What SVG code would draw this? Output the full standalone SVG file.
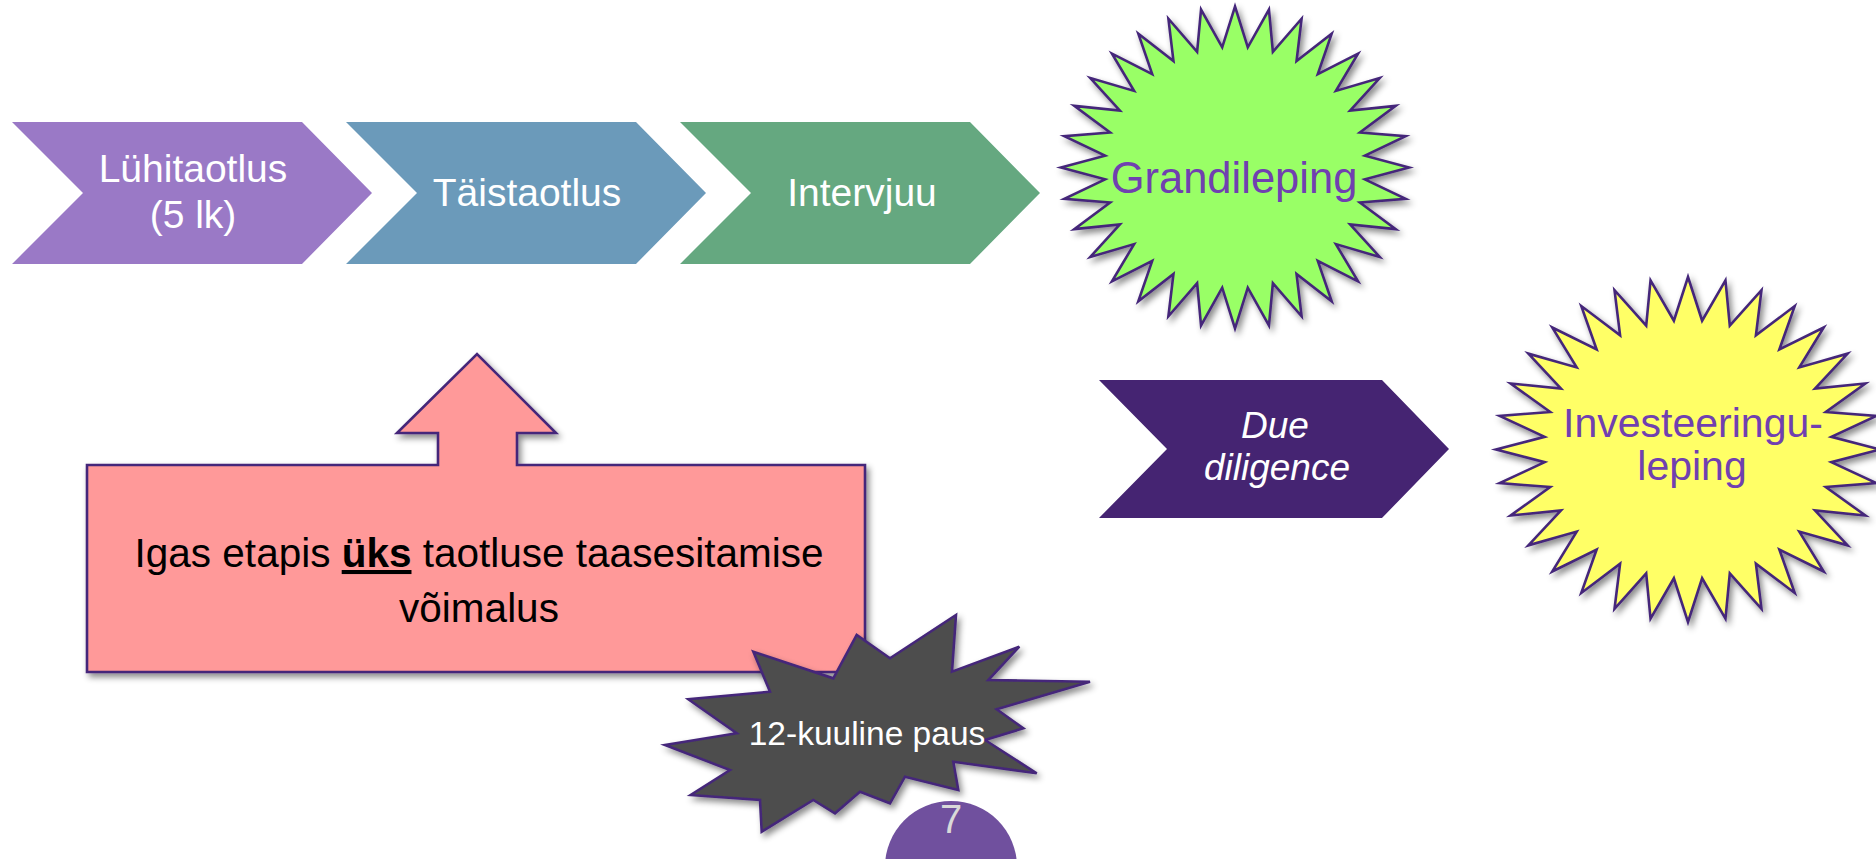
<svg xmlns="http://www.w3.org/2000/svg" xmlns:xlink="http://www.w3.org/1999/xlink" width="1876" height="859" viewBox="0 0 1876 859">
<style>
.t{font-family:"Liberation Sans",Arial,sans-serif;text-anchor:middle}
.w{fill:#ffffff}
.edge{stroke:#45287a;stroke-width:2.6;stroke-linejoin:miter}
.purpleT{fill:#7040b0}
</style>
<defs>
<filter id="sh" x="-20%" y="-20%" width="140%" height="140%">
<feDropShadow dx="3" dy="4" stdDeviation="3" flood-color="#000" flood-opacity="0.45"/>
</filter>
<polygon id="star32" vector-effect="non-scaling-stroke" points="0,-100 7.35,-74.64 19.51,-98.08 21.77,-71.77 38.27,-92.39 35.36,-66.14 55.56,-83.15 47.58,-57.98 70.71,-70.71 57.98,-47.58 83.15,-55.56 66.14,-35.36 92.39,-38.27 71.77,-21.77 98.08,-19.51 74.64,-7.35 100,0 74.64,7.35 98.08,19.51 71.77,21.77 92.39,38.27 66.14,35.36 83.15,55.56 57.98,47.58 70.71,70.71 47.58,57.98 55.56,83.15 35.36,66.14 38.27,92.39 21.77,71.77 19.51,98.08 7.35,74.64 0,100 -7.35,74.64 -19.51,98.08 -21.77,71.77 -38.27,92.39 -35.36,66.14 -55.56,83.15 -47.58,57.98 -70.71,70.71 -57.98,47.58 -83.15,55.56 -66.14,35.36 -92.39,38.27 -71.77,21.77 -98.08,19.51 -74.64,7.35 -100,0 -74.64,-7.35 -98.08,-19.51 -71.77,-21.77 -92.39,-38.27 -66.14,-35.36 -83.15,-55.56 -57.98,-47.58 -70.71,-70.71 -47.58,-57.98 -55.56,-83.15 -35.36,-66.14 -38.27,-92.39 -21.77,-71.77 -19.51,-98.08 -7.35,-74.64"/>
</defs>
<rect width="1876" height="859" fill="#ffffff"/>

<g id="connectors"></g>

<g id="step1">
<polygon points="12,122 302,122 372,193 302,264 12,264 83,193" fill="#9a79c6"/>
<text class="t w" x="193" y="182" font-size="39">Lühitaotlus</text>
<text class="t w" x="193" y="228" font-size="39">(5 lk)</text>
</g>
<g id="step2">
<polygon points="346,122 636,122 706,193 636,264 346,264 417,193" fill="#6b9aba"/>
<text class="t w" x="527" y="206" font-size="39">Täistaotlus</text>
</g>
<g id="step3">
<polygon points="680,122 970,122 1040,193 970,264 680,264 751,193" fill="#65a880"/>
<text class="t w" x="862" y="206" font-size="39">Intervjuu</text>
</g>

<g id="grandileping">
<g filter="url(#sh)">
<use xlink:href="#star32" transform="translate(1235,167.5) scale(1.74,1.61)" fill="#99ff66" class="edge"/>
</g>
<text class="t purpleT" x="1234" y="193" font-size="43.5">Grandileping</text>
</g>

<g id="due-diligence">
<polygon points="1099,380 1382,380 1449,449 1382,518 1099,518 1167,449" fill="#452472"/>
<text class="t w" x="1275" y="438" font-size="37" font-style="italic">Due</text>
<text class="t w" x="1277" y="480" font-size="37" font-style="italic">diligence</text>
</g>

<g id="investeeringuleping">
<g filter="url(#sh)">
<use xlink:href="#star32" transform="translate(1688,449.5) scale(1.92,1.725)" fill="#ffff66" class="edge"/>
</g>
<text class="t purpleT" x="1693" y="437" font-size="41">Investeeringu-</text>
<text class="t purpleT" x="1692" y="480" font-size="41">leping</text>
</g>

<g id="callout">
<path d="M87,465 H438 V433 H397 L477,354 L556,433 H517 V465 H865 V672 H87 Z" fill="#ff9999" class="edge" filter="url(#sh)"/>
<text class="t" x="479" y="567" font-size="40.5" fill="#000000">Igas etapis <tspan font-weight="bold" text-decoration="underline">üks</tspan> taotluse taasesitamise</text>
<text class="t" x="479" y="622" font-size="40.5" fill="#000000">võimalus</text>
</g>

<g id="pause">
<polygon points="753.3,651.7 833.3,678.3 856.7,635 890,658.3 956,615 952,671.7 1019.3,646.7 988.3,680 1090,681.7 996.7,709.3 1023.3,728.3 985,740 1036.7,773.3 953.3,761.7 958.3,790 905,776.7 890,803.3 860,791.7 835,813.3 813.3,800 761.7,831.7 760,800 690.7,795 730,770 665,745 736.7,733.3 688.3,699.3 770,691.7" fill="#4d4d4d" class="edge" filter="url(#sh)"/>
<text class="t w" x="867" y="745" font-size="33.5">12-kuuline paus</text>
</g>

<g id="page-number">
<circle cx="951" cy="867" r="66" fill="#70509e"/>
<text class="t" x="951" y="833" font-size="40" fill="#d9d9d9">7</text>
</g>
</svg>
